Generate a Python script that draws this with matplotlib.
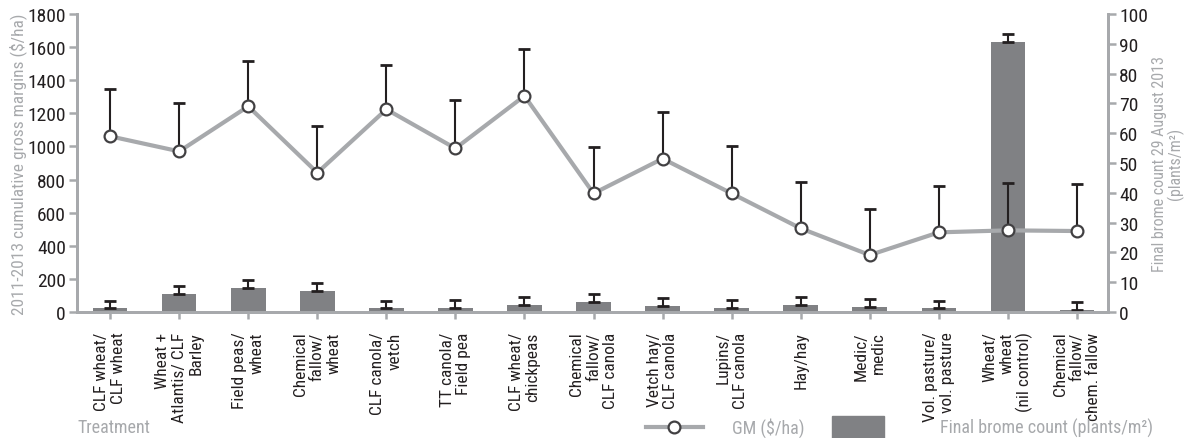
import matplotlib
matplotlib.use("Agg")
import matplotlib.pyplot as plt
from matplotlib import font_manager
from matplotlib.lines import Line2D
from matplotlib.patches import Rectangle
import numpy as np


def _narrow_font():
    # prefer a condensed face, fall back to plain DejaVu Sans
    names = {f.name for f in font_manager.fontManager.ttflist}
    for name in ("Liberation Sans Narrow", "Roboto Condensed", "Open Sans Condensed"):
        if name in names:
            return name, "normal"
    for f in font_manager.fontManager.ttflist:
        if f.name == "DejaVu Sans" and f.stretch == "condensed" and f.weight in (400, "normal"):
            return "DejaVu Sans", "condensed"
    return "DejaVu Sans", "normal"


FONT, STRETCH = _narrow_font()
plt.rcParams["font.family"] = [FONT, "DejaVu Sans"]
plt.rcParams["font.stretch"] = STRETCH

treatments = [
    "CLF wheat/\nCLF wheat",
    "Wheat +\nAtlantis/ CLF\nBarley",
    "Field peas/\nwheat",
    "Chemical\nfallow/\nwheat",
    "CLF canola/\nvetch",
    "TT canola/\nField pea",
    "CLF wheat/\nchickpeas",
    "Chemical\nfallow/\nCLF canola",
    "Vetch hay/\nCLF canola",
    "Lupins/\nCLF canola",
    "Hay/hay",
    "Medic/\nmedic",
    "Vol. pasture/\nvol. pasture",
    "Wheat/\nwheat\n(nil control)",
    "Chemical\nfallow/\nchem. fallow",
]

# cumulative gross margin 2011-2013 ($/ha) and upper error
gm = [1061, 970, 1242, 841, 1224, 988, 1305, 716, 926, 716, 505, 344, 481, 493, 489]
gm_err = [286, 290, 276, 282, 270, 292, 281, 283, 282, 289, 283, 278, 280, 288, 282]

# final brome count 29 Aug 2013 (plants/m2) and upper error
brome = [1.3, 6.0, 8.0, 7.0, 1.3, 1.2, 2.3, 3.4, 2.0, 1.3, 2.3, 1.8, 1.3, 90.7, 0.7]
brome_err = [2.5, 2.6, 2.7, 2.6, 2.5, 2.9, 2.8, 2.6, 2.7, 2.6, 2.8, 2.6, 2.5, 2.6, 2.7]

GREY = "#a7a9ac"
BAR = "#808184"
DARK = "#231f20"

x = np.arange(len(treatments))

fig, ax = plt.subplots(figsize=(11.85, 4.39), dpi=100)
fig.subplots_adjust(left=0.065, right=0.935, top=0.966, bottom=0.287)
ax2 = ax.twinx()

ax2.bar(x, brome, width=0.5, color=BAR, zorder=2)
ax2.errorbar(x, brome, yerr=[np.zeros(len(x)), brome_err], fmt="none",
             ecolor=DARK, elinewidth=1.5, capsize=4.3, capthick=2, zorder=3)

ax.errorbar(x, gm, yerr=[np.zeros(len(x)), gm_err], fmt="none",
            ecolor=DARK, elinewidth=1.5, capsize=4.3, capthick=2, zorder=3)
ax.plot(x, gm, color=GREY, lw=3, marker="o", ms=8.5, mfc="white",
        mec="#414042", mew=1.6, zorder=4)

ax.set_zorder(ax2.get_zorder() + 1)
ax.patch.set_visible(False)

ax.set_xlim(-0.48, 14.45)
ax.set_ylim(0, 1800)
ax.set_yticks(range(0, 1801, 200))
ax2.set_ylim(0, 100)
ax2.set_yticks(range(0, 101, 10))

for a in (ax, ax2):
    for s in a.spines.values():
        s.set_color(GREY)
        s.set_linewidth(2)
    a.spines["top"].set_visible(False)
    a.tick_params(colors=GREY, labelcolor="#231f20", width=1.8, length=6,
                  labelsize=14, pad=2)

ax.set_xticks(x)
ax.set_xticklabels(treatments, rotation=90, ha="center", va="top",
                   multialignment="right", fontsize=12.5, linespacing=1.15)
ax.tick_params(axis="x", length=5, pad=9)

ax.set_ylabel("2011-2013 cumulative gross margins ($/ha)", color=GREY,
              fontsize=12.5, labelpad=0)
ax2.set_ylabel("Final brome count 29 August 2013\n(plants/m²)", color=GREY,
               fontsize=11.5, labelpad=3, linespacing=0.95)

fig.text(0.065, 0.025, "Treatment", color=GREY, fontsize=13, va="center")

# legend keys along the bottom
ly = 0.025
fig.add_artist(Line2D([0.545, 0.593], [ly, ly], color=GREY, lw=3,
                      transform=fig.transFigure))
fig.add_artist(Line2D([0.569], [ly], marker="o", ms=8.5, mfc="white",
                      mec="#414042", mew=1.6, transform=fig.transFigure))
fig.text(0.618, ly, "GM ($/ha)", color=GREY, fontsize=13, va="center")
fig.add_artist(Rectangle((0.702, ly - 0.024), 0.044, 0.048, color=BAR,
                         transform=fig.transFigure))
fig.text(0.793, ly, "Final brome count (plants/m²)", color=GREY,
         fontsize=13, va="center")

fig.savefig("out.png", dpi=100)
